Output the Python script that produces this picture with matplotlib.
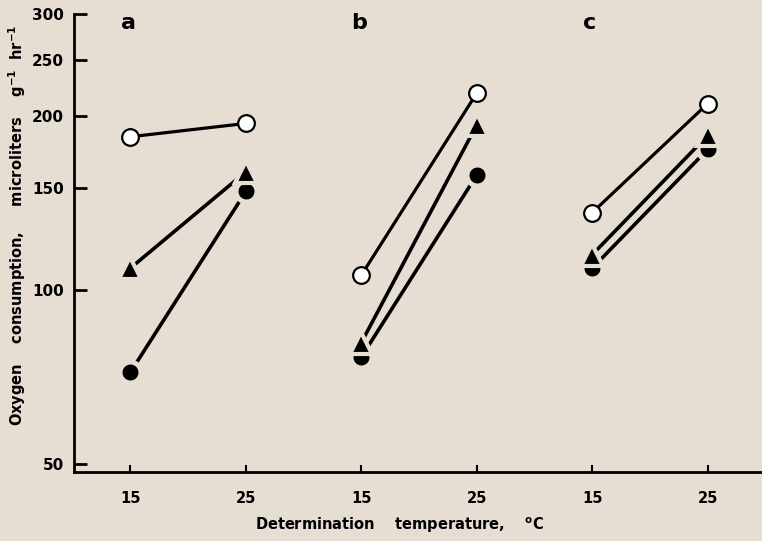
import matplotlib
matplotlib.use("Agg")
import matplotlib.pyplot as plt
from matplotlib.ticker import FixedLocator, NullLocator

# Data (oxygen consumption, microliters g-1 hr-1)
panels = ['a', 'b', 'c']
temps = ['15', '25', '15', '25', '15', '25']
open_circle = [184, 194, 106, 219, 136, 210]
triangle = [109, 160, 81, 193, 115, 185]
filled_circle = [72, 148, 76.5, 158, 109, 175]
y_ticks = [50, 100, 150, 200, 250, 300]

bg = '#e6ded2'
plt.rcParams['font.family'] = ['DejaVu Sans']
plt.rcParams['font.weight'] = 'bold'

fig = plt.figure(figsize=(7.62, 5.41), dpi=100, facecolor=bg)
ax = fig.add_axes([0.097, 0.128, 0.903, 0.846], facecolor=bg)

for i, name in enumerate(panels):
    x = [2 * i, 2 * i + 1]
    # open circles
    ax.plot(x, open_circle[2*i:2*i+2], '-', color='black', lw=2.3, zorder=2,
            marker='o', ms=12, mfc='white', mec='black', mew=1.6)
    # filled circles and triangles, light edge gives the gap at the line end
    ax.plot(x, filled_circle[2*i:2*i+2], '-', color='black', lw=2.6, zorder=3,
            marker='o', ms=15, mfc='black', mec=bg, mew=3.5)
    ax.plot(x, triangle[2*i:2*i+2], '-', color='black', lw=2.6, zorder=4,
            marker='^', ms=16, mfc='black', mec=bg, mew=3.0)
    ax.text(2 * i - 0.02, 290, name, fontsize=16, fontweight='bold',
            ha='center', va='center')

ax.set_yscale('log')
ax.set_ylim(48.4, 300)
ax.set_xlim(-0.49, 5.47)
ax.yaxis.set_major_locator(FixedLocator(y_ticks))
ax.yaxis.set_minor_locator(NullLocator())
ax.set_yticklabels([str(v) for v in y_ticks])
ax.set_xticks(range(len(temps)))
ax.set_xticklabels(temps)

for side in ['top', 'right']:
    ax.spines[side].set_visible(False)
ax.spines['left'].set_linewidth(2)
ax.spines['bottom'].set_linewidth(2)
ax.tick_params(axis='y', direction='in', length=9, width=2, pad=7, labelsize=11)
ax.tick_params(axis='x', direction='in', length=5, width=1.5, pad=14, labelsize=10.5)

fig.text(17 / 762, 1 - 225 / 541,
         'Oxygen    consumption,     microliters    g$^{\\mathregular{-1}}$  hr$^{\\mathregular{-1}}$',
         rotation=90, fontsize=10.5, fontweight='bold', ha='center', va='center')
fig.text(400 / 762, 1 - 525 / 541,
         'Determination    temperature,    $^{\\mathregular{o}}$C',
         fontsize=10.5, fontweight='bold', ha='center', va='center')

fig.savefig('out.png', dpi=100, facecolor=bg)
